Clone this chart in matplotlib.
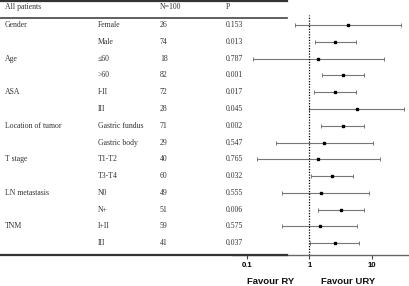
import matplotlib
matplotlib.use("Agg")
import matplotlib.pyplot as plt
from matplotlib.lines import Line2D
import numpy as np

groups = ["Gender", "", "Age", "", "ASA", "", "Location of tumor", "", "T stage", "", "LN metastasis", "", "TNM", ""]
subgroups = ["Female", "Male", "\u226460", ">60", "I-II", "III", "Gastric fundus", "Gastric body",
             "T1-T2", "T3-T4", "N0", "N+", "I+II", "III"]
n_vals = ["26", "74", "18", "82", "72", "28", "71", "29", "40", "60", "49", "51", "59", "41"]
p_vals = ["0.153", "0.013", "0.787", "0.001", "0.017", "0.045", "0.002", "0.547",
          "0.765", "0.032", "0.555", "0.006", "0.575", "0.037"]
or_est = [4.16, 2.6, 1.38, 3.46, 2.55, 5.73, 3.46, 1.72, 1.39, 2.33, 1.54, 3.25, 1.47, 2.58]
ci_low = [0.59, 1.22, 0.124, 1.62, 1.18, 1.0, 1.56, 0.29, 0.147, 1.06, 0.366, 1.39, 0.37, 1.04]
ci_high = [29.6, 5.65, 15.5, 7.4, 5.65, 32.4, 7.6, 10.3, 13.5, 5.06, 9.1, 7.6, 5.86, 6.3]
xticks = [0.1, 1, 10]
xticklabels = ["0.1", "1", "10"]

W, H = 410, 286
fig = plt.figure(figsize=(W / 100, H / 100), dpi=100)

def fx(x):
    return x / W

def fy(y):
    return 1 - y / H

row0, rowstep = 25.0, 16.79
ax_top, ax_bot = 15.0, 255.0
ax_left, ax_right = 232.0, 410.0
ax = fig.add_axes([fx(ax_left), fy(ax_bot), (ax_right - ax_left) / W, (ax_bot - ax_top) / H])
ax.set_xscale("log")
x01, dec = 246.7, 62.5
ax.set_xlim(10 ** ((ax_left - x01) / dec - 1), 10 ** ((ax_right - x01) / dec - 1))
ax.set_ylim((ax_bot - row0) / rowstep, (ax_top - row0) / rowstep)

ys = np.arange(len(or_est))
est = np.array(or_est)
lo = np.array(ci_low)
hi = np.array(ci_high)
ax.errorbar(est, ys, xerr=[est - lo, hi - est], fmt="s", color="black", ms=1.7,
            ecolor="#777777", elinewidth=0.8, capsize=1.4, capthick=0.7)
ax.axvline(1, color="black", linestyle=(0, (1, 1.2)), linewidth=0.9)

for s in ["top", "right", "left"]:
    ax.spines[s].set_visible(False)
ax.spines["bottom"].set_color("#666666")
ax.spines["bottom"].set_linewidth(1.0)
ax.set_yticks([])
ax.set_xticks(xticks)
ax.set_xticklabels(xticklabels, fontsize=5.6, fontweight="bold", family="Liberation Sans")
ax.xaxis.set_minor_locator(matplotlib.ticker.NullLocator())
ax.tick_params(axis="x", length=3, width=0.8, color="#444444", pad=2)

# table text
serif = "Liberation Serif"
tc = "#333333"
fs = 5.6
fig.text(fx(5), fy(7), "All patients", fontsize=fs, family=serif, color=tc, va="center", ha="left")
fig.text(fx(160), fy(7), "N=100", fontsize=fs, family=serif, color=tc, va="center", ha="left")
fig.text(fx(226), fy(7), "P", fontsize=fs, family=serif, color=tc, va="center", ha="left")
for i in range(len(subgroups)):
    y = row0 + rowstep * i
    if groups[i]:
        fig.text(fx(5), fy(y), groups[i], fontsize=fs, family=serif, color=tc, va="center", ha="left")
    fig.text(fx(98), fy(y), subgroups[i], fontsize=fs, family=[serif, "DejaVu Serif"], color=tc, va="center", ha="left")
    fig.text(fx(160), fy(y), n_vals[i], fontsize=fs, family=serif, color=tc, va="center", ha="left")
    fig.text(fx(226), fy(y), p_vals[i], fontsize=fs, family=serif, color=tc, va="center", ha="left")

# table lines
def hline(y, x0, x1, lw, color):
    fig.add_artist(Line2D([fx(x0), fx(x1)], [fy(y), fy(y)], transform=fig.transFigure, lw=lw, color=color))

hline(0.8, 0, 287, 1.6, "#333333")
hline(18, 0, 287, 1.2, "#444444")
hline(255, 0, 287, 1.6, "#333333")

fig.text(fx(271), fy(282), "Favour RY", fontsize=6.8, fontweight="bold", family="Liberation Sans",
         color="#111111", ha="center", va="center")
fig.text(fx(347.7), fy(282), "Favour URY", fontsize=6.8, fontweight="bold", family="Liberation Sans",
         color="#111111", ha="center", va="center")

fig.savefig("out.png", dpi=100)
